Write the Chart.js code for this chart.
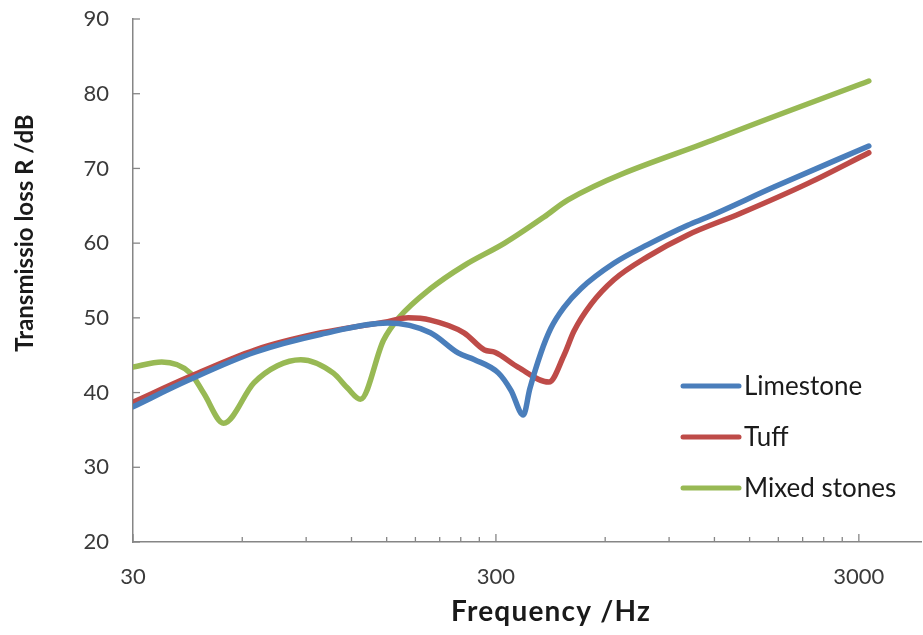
<!DOCTYPE html>
<html>
<head>
<meta charset="utf-8">
<script src="https://cdn.jsdelivr.net/npm/chart.js@4.4.0/dist/chart.umd.min.js"></script>
<style>
    html, body { margin: 0; padding: 0; background: #fff; }
    #wrap { width: 923px; height: 635px; position: relative; }
</style>
</head>
<body>
<div id="wrap"><canvas id="chart"></canvas></div>
<script>
// values (frequency in Hz, R in dB)
const freqLimestone = [30, 42.4, 65, 99, 151, 198, 236, 262, 305, 330, 357, 372, 399, 425, 462, 514, 634, 786, 1013, 1151, 1750, 3196];
const rLimestone = [38.1, 41.6, 45.4, 47.8, 49.3, 48.0, 45.3, 44.4, 42.6, 40.3, 37.0, 40.5, 45.3, 48.6, 51.4, 53.9, 57.3, 59.8, 62.4, 63.5, 67.5, 73.0];

const freqTuff = [30, 42.4, 65, 99, 151, 172, 198, 245, 279, 298, 345, 420, 462, 492, 548, 634, 786, 1013, 1418, 2172, 3196];
const rTuff = [38.7, 42.0, 45.7, 48.0, 49.5, 50.0, 49.7, 48.0, 45.7, 45.4, 43.4, 41.4, 45.0, 48.2, 51.8, 55.1, 58.2, 61.1, 64.0, 68.0, 72.1];

const freqMixed = [30, 36, 43.2, 47, 53.3, 64.6, 75, 87, 107, 117, 127, 147, 162, 198, 245, 317, 407, 474, 1249, 3196];
const rMixed = [43.4, 44.1, 42.6, 39.9, 35.9, 41.3, 43.6, 44.4, 42.6, 40.6, 39.1, 47.0, 50.0, 53.9, 57.0, 60.0, 63.5, 65.8, 74.2, 81.7];

const seriesNames = ['Limestone', 'Tuff', 'Mixed stones'];
const seriesColors = ['#4A7EBB', '#BE4B48', '#98B954'];

const xTicks = [30, 60, 90, 120, 150, 180, 210, 240, 270, 300, 600, 900, 1200, 1500, 1800, 2100, 2400, 2700, 3000];
const xMajorTicks = [30, 300, 3000];
const yTicks = [20, 30, 40, 50, 60, 70, 80, 90];

const xTitle = 'Frequency /Hz';
const yTitle = 'Transmissio loss R /dB';

const axisColor = '#868686';
const fontName = 'Lato, "Open Sans", sans-serif';

function toPoints(xs, ys) {
    return xs.map((x, i) => ({ x: x, y: ys[i] }));
}

function makeDataset(i, xs, ys) {
    return {
        label: seriesNames[i],
        data: toPoints(xs, ys),
        borderColor: seriesColors[i],
        backgroundColor: seriesColors[i],
        borderWidth: 5.5,
        borderCapStyle: 'round',
        borderJoinStyle: 'round',
        cubicInterpolationMode: 'monotone',
        pointRadius: 0,
        fill: false
    };
}

// inward tick marks, axis titles and the legend inside the plot
const extras = {
    id: 'extras',
    afterDraw(chart) {
        const ctx = chart.ctx;
        const xs = chart.scales.x;
        const ys = chart.scales.y;
        const area = chart.chartArea;
        ctx.save();
        ctx.strokeStyle = axisColor;
        ctx.lineWidth = 1.3;
        xs.ticks.forEach(t => {
            const px = xs.getPixelForValue(t.value);
            const len = xMajorTicks.includes(t.value) ? 8 : 5;
            ctx.beginPath();
            ctx.moveTo(px, area.bottom);
            ctx.lineTo(px, area.bottom - len);
            ctx.stroke();
        });
        ys.ticks.forEach(t => {
            const py = ys.getPixelForValue(t.value);
            ctx.beginPath();
            ctx.moveTo(area.left, py);
            ctx.lineTo(area.left + 7, py);
            ctx.stroke();
        });

        ctx.fillStyle = '#1a1a1a';
        ctx.textAlign = 'center';
        ctx.textBaseline = 'middle';
        ctx.font = 'bold 28px ' + fontName;
        ctx.letterSpacing = '1.2px';
        ctx.fillText(xTitle, 551, 612);
        ctx.letterSpacing = '0px';

        ctx.font = 'bold 24px ' + fontName;
        ctx.translate(25, 233);
        ctx.rotate(-Math.PI / 2);
        ctx.fillText(yTitle, 0, 0);
        ctx.setTransform(1, 0, 0, 1, 0, 0);
        ctx.restore();

        ctx.save();
        ctx.font = '26px ' + fontName;
        ctx.textAlign = 'left';
        ctx.textBaseline = 'middle';
        chart.data.datasets.forEach((ds, i) => {
            const y = 386 + i * 51;
            ctx.strokeStyle = ds.borderColor;
            ctx.lineWidth = 5;
            ctx.lineCap = 'round';
            ctx.beginPath();
            ctx.moveTo(683, y);
            ctx.lineTo(739, y);
            ctx.stroke();
            ctx.fillStyle = '#1a1a1a';
            ctx.fillText(ds.label, 744, y + 1);
        });
        ctx.restore();
    }
};

const chart = new Chart(document.getElementById('chart'), {
    type: 'line',
    data: {
        datasets: [
            makeDataset(0, freqLimestone, rLimestone),
            makeDataset(1, freqTuff, rTuff),
            makeDataset(2, freqMixed, rMixed)
        ]
    },
    options: {
        responsive: true,
        maintainAspectRatio: false,
        animation: false,
        layout: { padding: { top: 19, right: 2, bottom: 0, left: 0 } },
        plugins: {
            legend: { display: false },
            tooltip: { enabled: false }
        },
        scales: {
            x: {
                type: 'logarithmic',
                min: 30,
                max: 4450,
                afterBuildTicks: scale => {
                    scale.ticks = xTicks.map(v => ({ value: v }));
                },
                afterFit: scale => {
                    scale.height = 93;
                    scale.paddingRight = 0;
                },
                ticks: {
                    autoSkip: false,
                    maxRotation: 0,
                    padding: 22,
                    color: '#3a3a3a',
                    font: { family: fontName, size: 22 },
                    callback: v => xMajorTicks.includes(v) ? String(v) : ''
                },
                grid: { display: false, drawTicks: false },
                border: { display: true, color: axisColor, width: 1.5 }
            },
            y: {
                min: 20,
                max: 90,
                afterBuildTicks: scale => {
                    scale.ticks = yTicks.map(v => ({ value: v }));
                },
                afterFit: scale => {
                    scale.width = 133;
                    scale.paddingTop = 0;
                    scale.paddingBottom = 0;
                },
                ticks: {
                    padding: 24,
                    color: '#3a3a3a',
                    font: { family: fontName, size: 22 }
                },
                grid: { display: false, drawTicks: false },
                border: { display: true, color: axisColor, width: 1.5 }
            }
        }
    },
    plugins: [extras]
});
</script>
</body>
</html>
